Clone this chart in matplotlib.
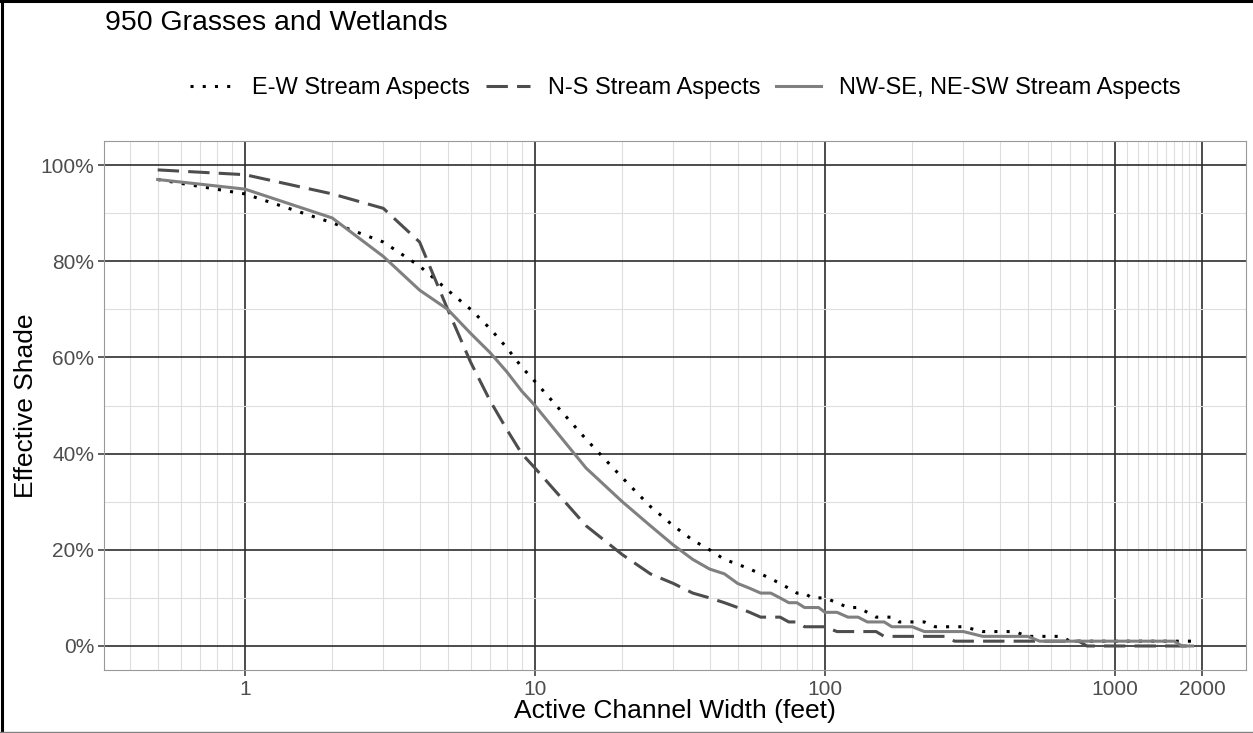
import numpy as np
import matplotlib
matplotlib.use("Agg")
import matplotlib.pyplot as plt
from matplotlib.lines import Line2D
from matplotlib.ticker import FixedLocator, FixedFormatter, NullFormatter

# channel widths (feet) and effective shade (%)
widths = [0.5, 1, 2, 3, 4, 5, 6, 7, 8, 9, 10,
          15, 20, 25, 30, 35, 40, 45, 50, 55, 60, 65, 70, 75, 80, 85, 90, 95, 100,
          110, 120, 130, 140, 150, 160, 170, 180, 190, 200, 220, 240, 260, 280, 300,
          350, 400, 450, 500, 550, 600, 650, 700, 750, 800, 900, 1000,
          1200, 1400, 1600, 1700, 1850]

shade_ew = [97, 94, 88, 84, 79, 74, 70, 66, 62, 58, 55,
            43, 35, 29, 25, 22, 20, 18, 17, 16, 15, 14, 13, 12, 11, 11, 10, 10, 10,
            9, 8, 8, 7, 6, 6, 6, 5, 5, 5, 5, 4, 4, 4, 4,
            3, 3, 3, 2, 2, 2, 2, 1, 1, 1, 1, 1,
            1, 1, 1, 1, 1]

shade_ns = [99, 98, 94, 91, 84, 70, 59, 51, 45, 40, 37,
            25, 19, 15, 13, 11, 10, 9, 8, 7, 6, 6, 6, 5, 5, 4, 4, 4, 4,
            3, 3, 3, 3, 3, 2, 2, 2, 2, 2, 2, 2, 2, 1, 1,
            1, 1, 1, 1, 1, 1, 1, 1, 1, 0, 0, 0,
            0, 0, 0, 0, 0]

shade_diag = [97, 95, 89, 81, 74, 70, 65, 61, 57, 53, 50,
              37, 30, 25, 21, 18, 16, 15, 13, 12, 11, 11, 10, 9, 9, 8, 8, 8, 7,
              7, 6, 6, 5, 5, 5, 4, 4, 4, 4, 3, 3, 3, 3, 3,
              2, 2, 2, 2, 1, 1, 1, 1, 1, 1, 1, 1,
              1, 1, 1, 0, 0]

labels = ["E-W Stream Aspects", "N-S Stream Aspects", "NW-SE, NE-SW Stream Aspects"]
x_major = [1, 10, 100, 1000, 2000]
x_minor = ([0.4, 0.5, 0.6, 0.7, 0.8, 0.9]
           + [m * d for d in (1, 10, 100) for m in range(2, 10)]
           + list(range(1100, 2000, 100)))
y_major = [0, 20, 40, 60, 80, 100]
y_minor = [10, 30, 50, 70, 90]

plt.rcParams["font.family"] = ["Liberation Sans", "DejaVu Sans"]

fig = plt.figure(figsize=(12.53, 7.33), dpi=100)
ax = fig.add_axes([0.083, 0.0859, 0.9114, 0.7217])

lw = 2.2
l1, = ax.plot(widths, shade_ew, color="black", lw=lw, ls=(0, (1, 3)))
l2, = ax.plot(widths, shade_ns, color="#4d4d4d", lw=lw, ls=(0, (7, 3)))
l3, = ax.plot(widths, shade_diag, color="#808080", lw=lw, ls="-")

ax.set_xscale("log")
ax.set_xlim(0.3265, 2829)
ax.set_ylim(-5, 105)
ax.xaxis.set_major_locator(FixedLocator(x_major))
ax.xaxis.set_major_formatter(FixedFormatter([str(v) for v in x_major]))
ax.xaxis.set_minor_locator(FixedLocator(x_minor))
ax.xaxis.set_minor_formatter(NullFormatter())
ax.set_yticks(y_major)
ax.set_yticklabels(["{}%".format(v) for v in y_major])
ax.set_yticks(y_minor, minor=True)

ax.set_axisbelow(True)
ax.grid(True, which="major", color="#2e2e2e", lw=1.2)
ax.grid(True, which="minor", color="#dedede", lw=0.8)
ax.tick_params(which="major", length=4, width=1.1, color="#333333",
               labelsize=15, labelcolor="#4d4d4d", pad=3)
ax.tick_params(which="minor", length=0)
for sp in ax.spines.values():
    sp.set_color("#999999")
    sp.set_linewidth(0.8)

ax.set_xlabel("Active Channel Width (feet)", fontsize=19)
ax.set_ylabel("Effective Shade", fontsize=19)
ax.xaxis.set_label_coords(0.5, -0.055)
ax.yaxis.set_label_coords(-0.058, 0.5)

fig.text(0.0838, 0.968, "950 Grasses and Wetlands", fontsize=20.5,
         ha="left", va="center")
fig.legend([l1, l2, l3], labels, loc="center", bbox_to_anchor=(0.5467, 0.880),
           ncol=3, frameon=False, fontsize=17, handlelength=1.9,
           handletextpad=0.75, columnspacing=0.65)

# frame around the image
fig.add_artist(Line2D([0.0012, 0.0012], [0, 1], transform=fig.transFigure, color="black", lw=2.2))
fig.add_artist(Line2D([0, 1], [0.998, 0.998], transform=fig.transFigure, color="black", lw=2.2))
fig.add_artist(Line2D([0, 1], [0.0015, 0.0015], transform=fig.transFigure, color="#808080", lw=1))

fig.savefig("out.png", dpi=100)
